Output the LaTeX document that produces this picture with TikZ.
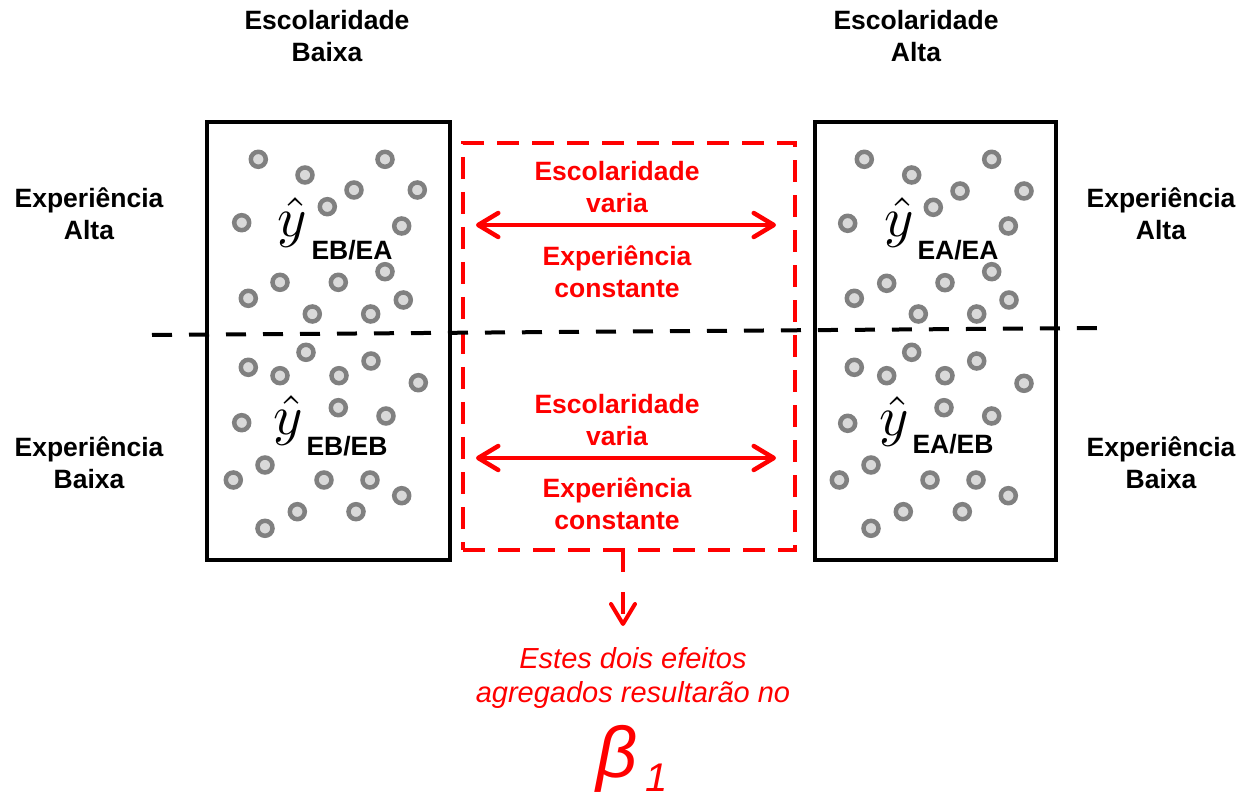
\documentclass[tikz,border=0pt]{standalone}
\usepackage{fontspec}
\setmainfont{Liberation Sans}
\usetikzlibrary{arrows.meta}
\definecolor{ringgray}{RGB}{128,128,128}
\definecolor{dotfill}{RGB}{217,217,217}
\definecolor{myred}{RGB}{255,0,0}
\newcommand{\bigyhat}{\scalebox{5.6}{$\hat{y}$}}
\begin{document}
\begin{tikzpicture}[x=1pt,y=-1pt,
  lbl/.style={align=center, font=\fontsize{26.5}{32}\selectfont\bfseries, inner sep=0},
  rlbl/.style={lbl, text=myred},
  sub/.style={font=\fontsize{26.5}{32}\selectfont\bfseries, inner sep=0},
  yhat/.style={inner sep=0},
  bigbox/.style={draw=black, line width=4pt, minimum width=243pt, minimum height=438pt, inner sep=0},
  dot/.style={circle, draw=ringgray, fill=dotfill, line width=4.5pt, minimum size=15pt, inner sep=0},
  redarrow/.style={draw=myred, line width=4.5pt, {Straight Barb[length=20pt,width=24pt,round]}-{Straight Barb[length=20pt,width=24pt,round]}}
]
\useasboundingbox (0,0) rectangle (1240,799);
% boxes
\node[bigbox] (boxL) at (328.5,341) {};
\node[bigbox, minimum width=241pt] (boxR) at (935.5,341) {};
\node[draw=myred, line width=4pt, dash pattern=on 22pt off 13pt, minimum width=332pt, minimum height=407pt, inner sep=0] (rbox) at (629,346.5) {};
% dots
\foreach \x/\y [count=\i] in {258.3/159.3, 305/175, 354/190, 385/159.3, 417.3/190, 327.3/206.7, 241.7/222.7, 401.7/226, 385/271.7, 280/282.3, 338.3/282.3, 248.3/298.3, 403.3/300, 312.3/314, 370.7/314}
  \node[dot] (da\i) at (\x,\y) {};
\foreach \x/\y [count=\i] in {306/352.3, 248.3/367.3, 371/361, 280/375.7, 339/375.7, 418.3/382.7, 338.3/407.7, 386/416, 241.7/422.7, 265/465, 233.3/480, 324/480, 370/480, 401.7/495.7, 297.3/511.7, 356/511.7, 265/528.3}
  \node[dot] (db\i) at (\x,\y) {};
\foreach \x/\y [count=\i] in {864.3/159.3, 911.7/175, 960/191, 991.7/159.3, 1024/191, 933.3/207.3, 847.7/223.3, 1008.3/226, 991.7/271.7, 886.7/283.3, 945/282.7, 854.3/298.3, 1009/300, 918.3/314, 976.7/314}
  \node[dot] (dc\i) at (\x,\y) {};
\foreach \x/\y [count=\i] in {911.7/352.3, 854.3/367.3, 976.7/361, 886.7/375.7, 945/375.7, 1024/383.3, 944/407.7, 991.7/416, 847.7/423.3, 871/465, 839.3/480, 930/480, 976/480, 1008.3/495.7, 903.3/511.7, 962.3/511.7, 871/528.3}
  \node[dot] (dd\i) at (\x,\y) {};
% y-hat labels
\node[yhat] (y1) at (292,223) {\bigyhat};
\node[sub] (s1) at (352,250) {EB/EA};
\node[yhat] (y2) at (288,421) {\bigyhat};
\node[sub] (s2) at (347,446) {EB/EB};
\node[yhat] (y3) at (899,223) {\bigyhat};
\node[sub] (s3) at (958,250) {EA/EA};
\node[yhat] (y4) at (894,422) {\bigyhat};
\node[sub] (s4) at (953,444) {EA/EB};
% black dashed line
\coordinate (dl) at (152,335);
\coordinate (dr) at (1103,328);
\draw[line width=4pt, dash pattern=on 20pt off 17pt] (dl) -- (dr);
% outer labels
\node[lbl] (tL) at (327,36) {Escolaridade\\Baixa};
\node[lbl] (tR) at (916,36) {Escolaridade\\Alta};
\node[lbl] (lA) at (89,214) {Experiência\\Alta};
\node[lbl] (lB) at (89,463) {Experiência\\Baixa};
\node[lbl] (rA) at (1161,214) {Experiência\\Alta};
\node[lbl] (rB) at (1161,463) {Experiência\\Baixa};
% red labels and arrows
\node[rlbl] (r1) at (617,187) {Escolaridade\\varia};
\node[rlbl] (r2) at (617,272) {Experiência\\constante};
\node[rlbl] (r3) at (617,420) {Escolaridade\\varia};
\node[rlbl] (r4) at (617,504) {Experiência\\constante};
\coordinate (a1l) at (476,225);
\coordinate (a1r) at (776,225);
\coordinate (a2l) at (476,458);
\coordinate (a2r) at (776,458);
\draw[redarrow] (a1l) -- (a1r);
\draw[redarrow] (a2l) -- (a2r);
% stub arrow
\coordinate (st0) at (623,550);
\coordinate (st1) at (623,626);
\draw[draw=myred, line width=4pt, dash pattern=on 22pt off 20pt, -{Straight Barb[length=20pt,width=24pt,round]}] (st0) -- (st1);
% bottom text
\node[font=\fontsize{29}{33}\selectfont\itshape, text=myred, align=center, inner sep=0] (txt) at (633,678) {Estes dois efeitos\\agregados resultarão no};
\node[text=myred, anchor=base west, inner sep=0, font=\fontsize{72}{72}\selectfont\itshape] (beta) at (596,777) {β};
\node[text=myred, anchor=base west, inner sep=0, font=\fontsize{40}{40}\selectfont\itshape] (one) at (645,791) {1};
\end{tikzpicture}
\end{document}
